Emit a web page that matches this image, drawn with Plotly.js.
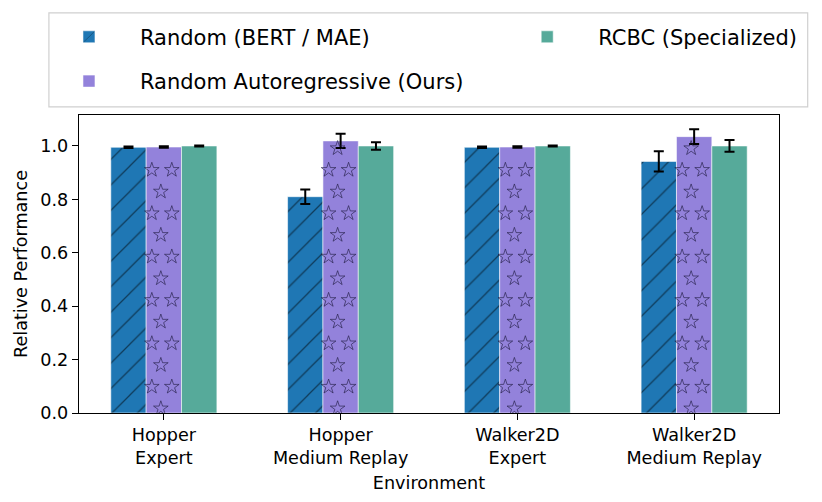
<!DOCTYPE html>
<html>
<head>
<meta charset="utf-8">
<script src="https://cdn.plot.ly/plotly-3.0.1.min.js"></script>
<style>
  html, body { margin: 0; padding: 0; background: #fff; }
  #chart { width: 822px; height: 502px; }
</style>
</head>
<body>
<div id="chart"></div>
<script>
// Relative performance per environment: grouped bars with error bars.

const environments = ['Hopper<br>Expert', 'Hopper<br>Medium Replay', 'Walker2D<br>Expert', 'Walker2D<br>Medium Replay'];
const seriesNames = ['Random (BERT / MAE)', 'Random Autoregressive (Ours)', 'RCBC (Specialized)'];
const randomMean = [0.995, 0.810, 0.995, 0.942];
const randomErr = [0.003, 0.027, 0.003, 0.038];
const autoregMean = [0.996, 1.019, 0.996, 1.035];
const autoregErr = [0.003, 0.027, 0.003, 0.028];
const rcbcMean = [1.000, 1.000, 1.000, 1.000];
const rcbcErr = [0.002, 0.014, 0.002, 0.022];
const yTicks = [0, 0.2, 0.4, 0.6, 0.8, 1.0];

const COLORS = ['#1f77b4', '#9382db', '#56aa9a'];
const xs = environments.map((_, i) => i);

const edge = { color: 'rgba(255,255,255,0.55)', width: 1 };
const errStyle = (arr) => ({ type: 'data', array: arr, visible: true, color: '#000', thickness: 2, width: 5 });

const traces = [
    {
        type: 'bar', x: xs, y: randomMean, name: seriesNames[0],
        legend: 'legend', legendgroup: 'a',
        marker: { color: COLORS[0], line: edge,
            pattern: { shape: '/', size: 18, solidity: 0.07, fgcolor: '#000', bgcolor: COLORS[0], fillmode: 'overlay' } },
        error_y: errStyle(randomErr),
        hoverinfo: 'y+name',
    },
    {
        type: 'bar', x: xs, y: autoregMean, name: seriesNames[1],
        legend: 'legend', legendgroup: 'b',
        marker: { color: COLORS[1], line: edge },
        error_y: errStyle(autoregErr),
        hoverinfo: 'y+name',
    },
    {
        type: 'bar', x: xs, y: rcbcMean, name: seriesNames[2],
        legend: 'legend2', legendgroup: 'c',
        marker: { color: COLORS[2], line: edge },
        error_y: errStyle(rcbcErr),
        hoverinfo: 'y+name',
    },
];

// Star hatch for the autoregressive bars (middle bar of each group)
const ROW_START = 0.017, ROW_STEP = 0.0812;
const ROW_OFFSETS = [[-0.017], [-0.068, 0.045]];
const starX = [], starY = [];
autoregMean.forEach((v, i) => {
    for (let k = 0; ROW_START + k * ROW_STEP <= v - 0.02; k++) {
        ROW_OFFSETS[k % 2].forEach(dx => {
            starX.push(xs[i] + dx);
            starY.push(ROW_START + k * ROW_STEP);
        });
    }
});
traces.push({
    type: 'scatter', mode: 'markers', x: starX, y: starY,
    marker: { symbol: 'star-open', size: 11, color: 'rgba(35,30,70,0.8)', line: { width: 0.8 } },
    showlegend: false, hoverinfo: 'skip',
});

const axisLine = { showline: true, mirror: true, linecolor: '#000', linewidth: 1.4,
    ticks: 'outside', ticklen: 6, tickwidth: 1.4, tickcolor: '#000', showgrid: false, zeroline: false };
const titleFont = { size: 17.6, color: '#000' };

const layout = {
    width: 822, height: 502,
    margin: { l: 79, r: 43, t: 115, b: 89 },
    paper_bgcolor: '#fff', plot_bgcolor: '#fff',
    font: { family: 'DejaVu Sans, sans-serif', size: 17.6, color: '#000' },
    barmode: 'group', bargap: 0.4, bargroupgap: 0,
    xaxis: { ...axisLine, range: [-0.48, 3.48], tickvals: xs, ticktext: environments,
        title: { text: 'Environment', standoff: 9, font: titleFont } },
    yaxis: { ...axisLine, range: [0, 1.116], tickvals: yTicks, tickformat: '.1f',
        title: { text: 'Relative Performance', standoff: 8, font: titleFont } },
    legend: { x: -0.0586, xanchor: 'left', y: 1.33, yanchor: 'top', bgcolor: 'rgba(0,0,0,0)',
        font: { size: 21 }, traceorder: 'grouped', tracegroupgap: 14, itemwidth: 92 },
    legend2: { x: 0.596, xanchor: 'left', y: 1.33, yanchor: 'top', bgcolor: 'rgba(0,0,0,0)',
        font: { size: 21 }, itemwidth: 92 },
    shapes: [{ type: 'rect', xref: 'paper', yref: 'paper', x0: -0.043, x1: 1.041, y0: 1.027, y1: 1.343,
        line: { color: '#d0d0d0', width: 1.2 } }],
};

Plotly.newPlot('chart', traces, layout, { displayModeBar: false, responsive: false });
</script>
</body>
</html>
